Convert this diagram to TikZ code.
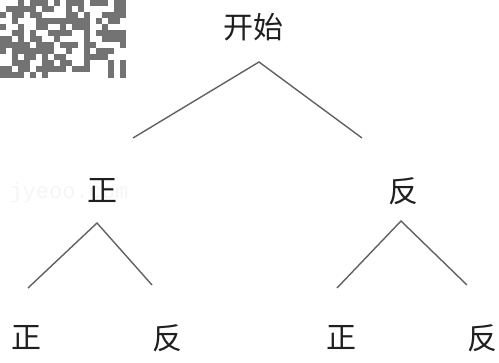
\documentclass[tikz,border=0pt]{standalone}
\usepackage{fontspec}
\newfontfamily\cjk{Noto Sans CJK SC}
\newfontfamily\wmfont{Liberation Mono}
\begin{document}
\begin{tikzpicture}[x=1pt,y=-1pt,
  lbl/.style={font=\cjk\fontsize{30}{30}\selectfont, text=black!88, inner sep=0pt},
  edge/.style={draw=black!62, line width=1.4pt},
  qr/.style={fill=black!55}]
\useasboundingbox (0,0) rectangle (499,363);
% watermark pattern
\pgfmathsetseed{11}
\foreach \i in {0,...,20}{
  \foreach \j in {0,...,12}{
    \pgfmathtruncatemacro\v{rnd<0.55}
    \ifnum\v=1 \fill[qr] (\i*6,\j*6) rectangle ++(6,6); \fi
  }
}
\node[font=\wmfont\fontsize{22}{22}\selectfont, text=black!4, anchor=west] (wm) at (6,193) {jyeoo.com};
% nodes
\node[lbl] (start) at (253,27) {开始};
\node[lbl] (z1) at (102,191) {正};
\node[lbl] (f1) at (403,191) {反};
\node[lbl] (z2) at (26,338) {正};
\node[lbl] (f2) at (167,338) {反};
\node[lbl] (z3) at (341,338) {正};
\node[lbl] (f3) at (482,338) {反};
% connector end points
\coordinate (sA) at (259,62);
\coordinate (z1t) at (133,138);
\coordinate (f1t) at (362,138);
\coordinate (z1b) at (97,223);
\coordinate (z2t) at (28,288);
\coordinate (f2t) at (152,285);
\coordinate (f1b) at (401,221);
\coordinate (z3t) at (337,288);
\coordinate (f3t) at (467,285);
\draw[edge] (z1t) -- (sA) -- (f1t);
\draw[edge] (z2t) -- (z1b) -- (f2t);
\draw[edge] (z3t) -- (f1b) -- (f3t);
\end{tikzpicture}
\end{document}
